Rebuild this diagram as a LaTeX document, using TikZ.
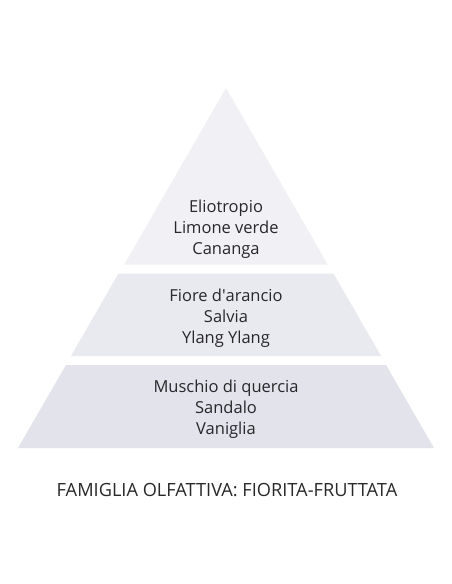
\documentclass[tikz,border=0pt]{standalone}
\usepackage{fontspec}
\setmainfont{Open Sans}
\usepackage{tikz}
\usetikzlibrary{positioning,calc}
\definecolor{strato1}{RGB}{240,240,245}
\definecolor{strato2}{RGB}{233,233,240}
\definecolor{strato3}{RGB}{226,227,235}
\definecolor{grigioTesto}{RGB}{40,40,42}

\begin{document}
\begin{tikzpicture}[x=1pt,y=-1pt,
  note/.style={align=center,text=grigioTesto,font=\fontsize{16.5}{21}\selectfont,inner sep=0pt},
  famiglia/.style={text=grigioTesto,font=\fontsize{18.2}{20}\selectfont,inner sep=0pt}]

  \useasboundingbox[fill=white] (0,0) rectangle (452,584);

  % strati della piramide
  \fill[strato1] (226,88) -- (124.3,264.5) -- (327.7,264.5) -- cycle;
  \fill[strato2] (118.5,273.5) -- (333.5,273.5) -- (381,356) -- (71,356) -- cycle;
  \fill[strato3] (66,365) -- (386,365) -- (434,448) -- (18,448) -- cycle;

  \node[note] (testa)  at (226,229) {Eliotropio\\Limone verde\\Cananga};
  \node[note] (cuore)  at (226,318) {Fiore d\textquotesingle arancio\\Salvia\\Ylang Ylang};
  \node[note] (fondo)  at (226,409) {Muschio di quercia\\Sandalo\\Vaniglia};

  \node[famiglia] (fam) at (227,490) {FAMIGLIA OLFATTIVA: FIORITA-FRUTTATA};
\end{tikzpicture}
\end{document}
